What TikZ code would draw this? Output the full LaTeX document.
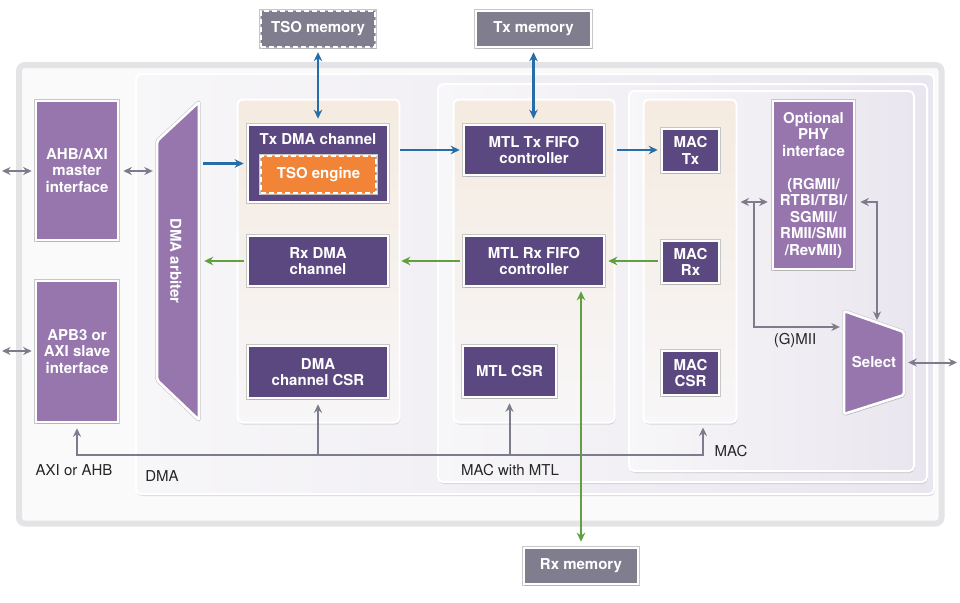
\documentclass[tikz,border=0pt]{standalone}
\usepackage{fontspec}
\setmainfont{TeX Gyre Heros}
\usetikzlibrary{arrows.meta,shadows}
\definecolor{dkp}{RGB}{91,72,128}
\definecolor{ltp}{RGB}{150,118,173}
\definecolor{mem}{RGB}{128,126,142}
\definecolor{tso}{RGB}{242,132,55}
\definecolor{txb}{RGB}{38,110,170}
\definecolor{rxg}{RGB}{96,160,64}
\definecolor{bus}{RGB}{125,124,140}
\definecolor{rim}{RGB}{228,228,230}
\definecolor{lav}{RGB}{234,230,239}
\definecolor{pale}{RGB}{247,246,248}
\definecolor{sand}{RGB}{245,235,224}
\def\bw{140pt}
\def\bh{50pt}
\newcommand{\blk}[7]{\node[#1,minimum width=#5,minimum height=#6] (#2) at (#3,#4) {#7};}
\tikzset{
	shd/.style={drop shadow={shadow xshift=0.8pt,shadow yshift=-2pt,opacity=0.25}},
	rimline/.style={preaction={draw=black!22,line width=3.8pt,solid}},
	box/.style={rectangle,draw=white,line width=2.6pt,rimline,text=white,font=\fontsize{15}{16.5}\selectfont\bfseries,align=center,inner sep=0pt,shd},
	dkbox/.style={box,fill=dkp},
	ltbox/.style={box,fill=ltp},
	membox/.style={box,fill=mem},
	dashbox/.style={dash pattern=on 5pt off 3pt,line width=2.4pt},
	ltshape/.style={fill=ltp,draw=white,line width=2.6pt,rimline,rounded corners=2pt,shd},
	column/.style={rectangle,rounded corners=5pt,draw=white,line width=2pt,top color=sand,bottom color=pale,inner sep=0pt,shd},
	frame/.style={rounded corners=5pt,draw=white,line width=2pt,left color=pale,right color=lav,shd},
	lbl/.style={font=\fontsize{15}{17}\selectfont,text=black!85},
	tx/.style={line width=2.4pt,color=txb,>={Stealth[length=9pt,width=8.5pt]}},
	rx/.style={line width=2.4pt,color=rxg,>={Stealth[length=9pt,width=8.5pt]}},
	gry/.style={line width=2pt,color=bus,>={Stealth[length=8.5pt,width=8pt]}}
}
\begin{document}
\begin{tikzpicture}[x=1pt,y=-1pt]
\useasboundingbox (0,0) rectangle (960,602);

\draw[draw=rim,line width=6pt,fill=pale!50!white,rounded corners=6pt,shd] (19,65) rectangle (941.5,523.5);
\draw[frame] (136,74) rectangle (934,494);
\draw[frame] (438,84) rectangle (927,482);
\draw[frame] (629,91) rectangle (914,471);

\blk{column}{col1}{318.5}{261}{162pt}{323pt}{}
\blk{column}{col2}{534}{261}{161pt}{323pt}{}
\blk{column}{col3}{690}{261}{93pt}{323pt}{}

\blk{ltbox}{ahb}{77}{170.5}{82pt}{139pt}{AHB/AXI\\master\\interface}
\blk{ltbox}{apb}{77}{351.5}{82pt}{141pt}{APB3 or\\AXI slave\\interface}

\draw[ltshape] (157,141) -- (199,102) -- (199,420) -- (157,380) -- cycle;
\node[minimum width=44pt,minimum height=320pt,inner sep=0pt] (arb) at (178,261) {};
\node[rotate=-90,text=white,font=\fontsize{15}{16.5}\selectfont\bfseries] at (176,261) {DMA arbiter};

\blk{dkbox}{tdma}{318}{163.5}{\bw}{77pt}{}
\node[text=white,font=\fontsize{15}{16.5}\selectfont\bfseries] at (318,139) {Tx DMA channel};
\blk{box,fill=tso,dashbox}{tsoe}{318.5}{174.5}{115pt}{37pt}{TSO engine}
\blk{dkbox}{rdma}{318}{261}{\bw}{\bh}{Rx DMA\\channel}
\blk{dkbox}{dcsr}{318}{372}{\bw}{52pt}{DMA\\channel CSR}

\blk{dkbox}{mtx}{534}{150}{\bw}{\bh}{MTL Tx FIFO\\controller}
\blk{dkbox}{mrx}{534}{261}{\bw}{\bh}{MTL Rx FIFO\\controller}
\blk{dkbox}{mcsr}{509.5}{371.5}{93pt}{51pt}{MTL CSR}

\blk{dkbox}{mactx}{690.5}{150.5}{57pt}{43pt}{MAC\\Tx}
\blk{dkbox}{macrx}{690.5}{262}{57pt}{42pt}{MAC\\Rx}
\blk{dkbox}{maccsr}{690.5}{373}{57pt}{44pt}{MAC\\CSR}

\blk{ltbox}{phy}{813.5}{185}{81pt}{168pt}{Optional\\PHY\\interface\\[16.5pt](RGMII/\\RTBI/TBI/\\SGMII/\\RMII/SMII\\/RevMII)}

\draw[ltshape] (844,311) -- (904,332) -- (904,395) -- (844,414) -- cycle;
\node[minimum width=62pt,minimum height=105pt,inner sep=0pt,text=white,font=\fontsize{15}{16.5}\selectfont\bfseries] (sel) at (874,362.5) {Select};

\blk{membox,dashbox}{tsomem}{318}{29}{114pt}{36pt}{TSO memory}
\blk{membox}{txmem}{533.5}{29}{115pt}{36pt}{Tx memory}
\blk{membox}{rxmem}{581}{566}{114pt}{36pt}{Rx memory}

\node[lbl] at (74,470) {AXI or AHB};
\node[lbl] at (162,476) {DMA};
\node[lbl] at (510,470) {MAC with MTL};
\node[lbl] at (731,451) {MAC};
\node[lbl] at (795,340) {(G)MII};

\draw[tx,<->,shorten <=4pt,shorten >=5pt] (tsomem.south) -- (tdma.north);
\draw[tx,<->,shorten <=4pt,shorten >=5pt] (txmem.south) -- (txmem.south |- mtx.north);
\draw[tx,->,shorten <=3pt,shorten >=3pt] (arb.east |- tdma.west) -- (tdma.west);
\draw[tx,->,shorten <=11pt,shorten >=3pt] (tdma.east |- mtx.west) -- (mtx.west);
\draw[tx,->,shorten <=12pt,shorten >=3pt] (mtx.east) -- (mactx.west |- mtx.east);

\draw[rx,->,shorten <=3pt,shorten >=4pt] (rdma.west) -- (arb.east |- rdma.west);
\draw[rx,->,shorten <=3pt,shorten >=12pt] (mrx.west) -- (rdma.east);
\draw[rx,->,shorten <=3pt,shorten >=3pt] (macrx.west |- mrx.east) -- (mrx.east);
\draw[rx,<->,shorten <=4pt,shorten >=5pt] (rxmem.north |- mrx.south) -- (rxmem.north);

\coordinate (ahbin) at (2,171);
\coordinate (apbin) at (2,351);
\draw[gry,<->,shorten >=3pt] (ahbin) -- (ahb.west |- ahbin);
\draw[gry,<->,shorten >=3pt] (apbin) -- (apb.west |- apbin);
\draw[gry,<->,shorten <=4pt,shorten >=3pt] (ahb.east |- ahbin) -- (arb.west |- ahbin);

\coordinate (busl) at (77,455);
\coordinate (busr) at (703,455);
\draw[gry,<->,shorten <=5pt,shorten >=4pt] (apb.south) -- (busl) -- (busr) -- (busr |- col3.south);
\draw[gry,->,shorten >=5pt] (dcsr.south |- busl) -- (dcsr.south);
\draw[gry,->,shorten >=5pt] (mcsr.south |- busl) -- (mcsr.south);

\coordinate (gmii) at (754,202);
\coordinate (gmd) at (754,327);
\coordinate (phyr) at (877,202);
\coordinate (seltop) at (877,320);
\coordinate (selout) at (957,362.5);
\draw[gry,<->,shorten <=3pt,shorten >=4pt] (col3.east |- gmii) -- (phy.west |- gmii);
\draw[gry,->,shorten >=3pt] (gmii) -- (gmd) -- (sel.west |- gmd);
\draw[gry,<->,shorten <=5pt] (phy.east |- phyr) -- (phyr) -- (seltop);
\draw[gry,<->,shorten <=3pt] (sel.east) -- (selout);
\end{tikzpicture}
\end{document}
